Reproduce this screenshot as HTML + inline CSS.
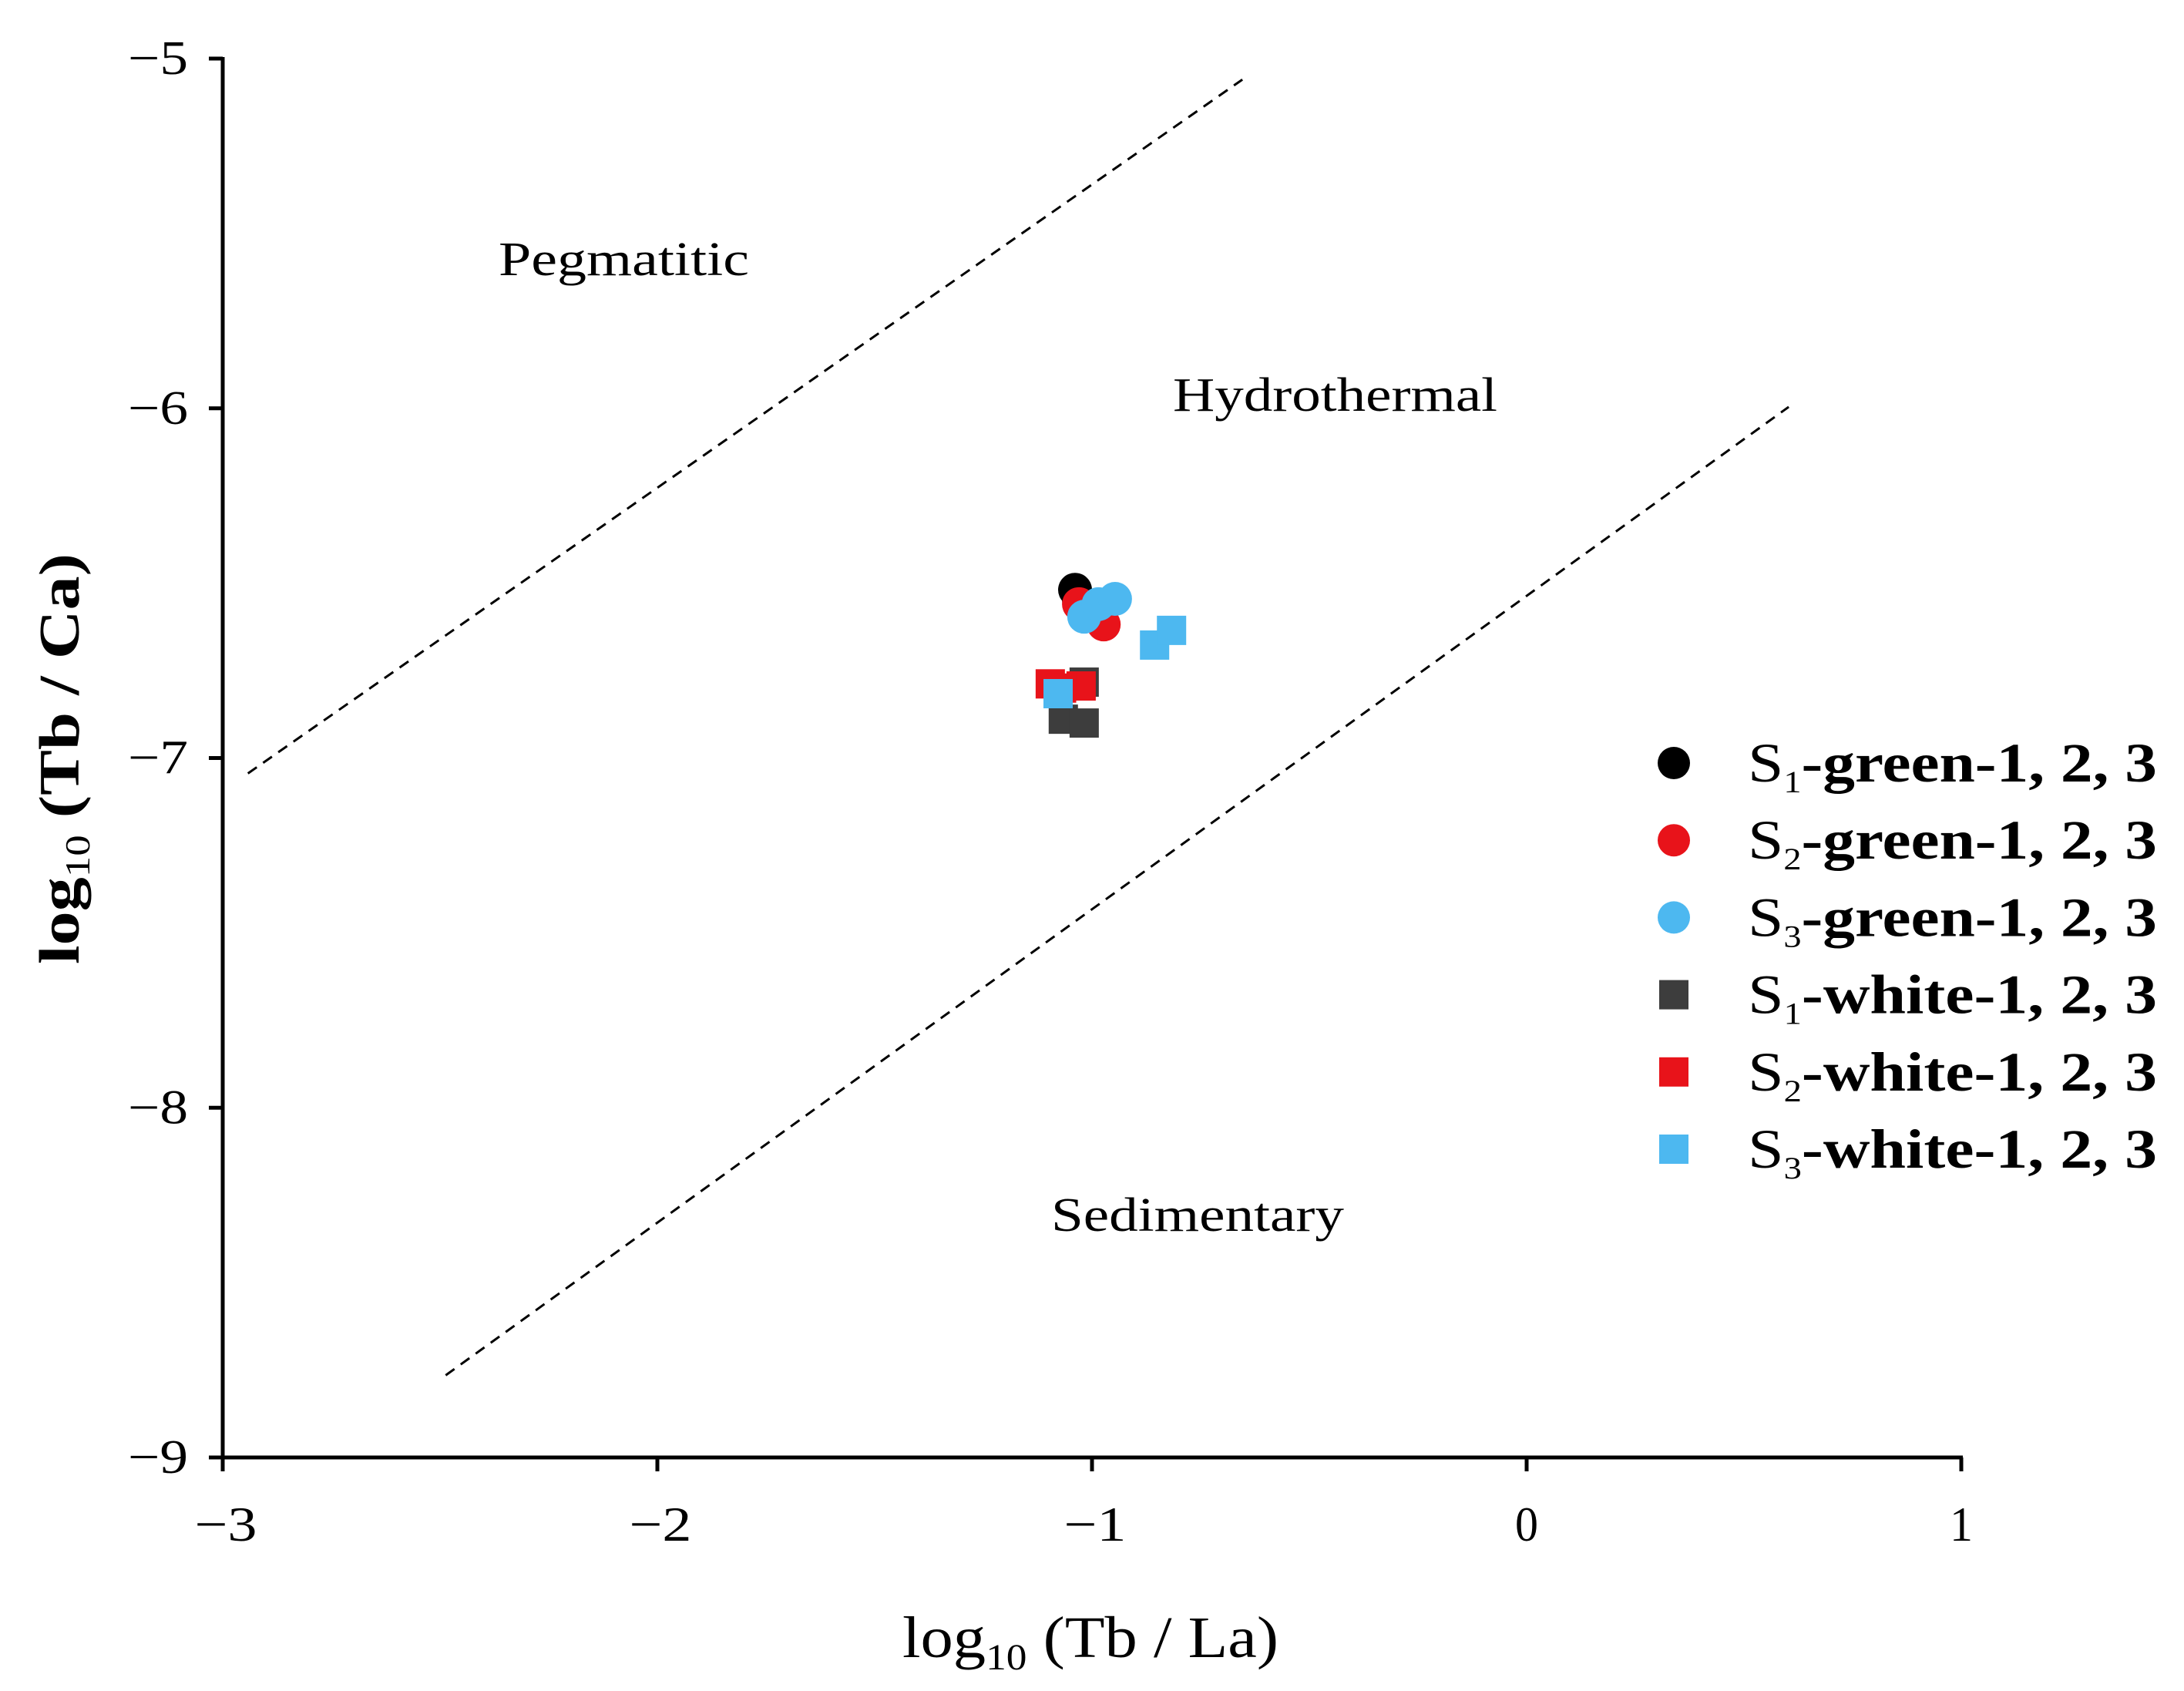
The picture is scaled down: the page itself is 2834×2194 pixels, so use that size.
<!DOCTYPE html>
<html><head><meta charset="utf-8"><style>
html,body{margin:0;padding:0;background:#fff}
svg{display:block}
text{font-family:"Liberation Serif",serif}
</style></head><body>
<svg id="chart" width="2834" height="2194" viewBox="0 0 2834 2194" xmlns="http://www.w3.org/2000/svg">
</svg>
<script>
const xTicks=[-3,-2,-1,0,1];
const yTicks=[-5,-6,-7,-8,-9];
const boundaryUpper=[[-2.942,-7.044],[-0.654,-5.06]];
const boundaryLower=[[-2.487,-8.765],[0.603,-5.996]];
const s1GreenX=[-1.039,-1.03,-1.02];const s1GreenY=[-6.519,-6.55,-6.57];
const s2GreenX=[-1.03,-1.01,-0.973];const s2GreenY=[-6.56,-6.58,-6.618];
const s3GreenX=[-1.018,-0.985,-0.947];const s3GreenY=[-6.596,-6.56,-6.545];
const s1WhiteX=[-1.018,-1.066,-1.018];const s1WhiteY=[-6.783,-6.889,-6.9];
const s2WhiteX=[-1.096,-1.025,-1.07];const s2WhiteY=[-6.788,-6.794,-6.8];
const s3WhiteX=[-0.856,-0.817,-1.078];const s3WhiteY=[-6.677,-6.635,-6.816];

const NS="http://www.w3.org/2000/svg";
const svg=document.getElementById('chart');
const X0=289,X1=2545,Y0=76,Y1=1891;
const sx=v=>X0+(v-(-3))/(1-(-3))*(X1-X0);
const sy=v=>Y0+((-5)-v)/((-5)-(-9))*(Y1-Y0);
function mk(tag,attrs,parent){const e=document.createElementNS(NS,tag);for(const k in attrs)e.setAttribute(k,attrs[k]);(parent||svg).appendChild(e);return e;}
const minus=v=>v<0?'\u2212'+Math.abs(v):String(v);

let ax=mk('line',{x1:X0,y1:Y0-2,x2:X0,y2:Y1+2,stroke:'#000','stroke-width':5});

ax=mk('line',{x1:X0-2,y1:Y1,x2:X1+2,y2:Y1,stroke:'#000','stroke-width':5});


yTicks.forEach(v=>{
 const t=mk('line',{x1:X0-18,y1:sy(v),x2:X0,y2:sy(v),stroke:'#000','stroke-width':5});
 
 const l=mk('text',{x:166,y:sy(v)+20,'font-size':62,textLength:78,lengthAdjust:'spacingAndGlyphs'});
 
 l.textContent=minus(v);
});
xTicks.forEach(v=>{
 const t=mk('line',{x1:sx(v),y1:Y1,x2:sx(v),y2:Y1+18,stroke:'#000','stroke-width':5});
 
 const w=v<0?81:30;
 const l=mk('text',{x:sx(v)+(v<0?4:0)-w/2,y:Y1+108,'font-size':64,textLength:w,lengthAdjust:'spacingAndGlyphs'});
 
 l.textContent=minus(v);
});

[[boundaryUpper,'boundary-pegmatitic-hydrothermal'],[boundaryLower,'boundary-hydrothermal-sedimentary']].forEach(([b,n])=>{
 const l=mk('line',{x1:sx(b[0][0]),y1:sy(b[0][1]),x2:sx(b[1][0]),y2:sy(b[1][1]),stroke:'#000','stroke-width':3,'stroke-dasharray':'14 10'});
 
});

[['Pegmatitic',647,357,325,'region-label-pegmatitic'],['Hydrothermal',1522,533,421,'region-label-hydrothermal'],['Sedimentary',1364,1597,380,'region-label-sedimentary']].forEach(([t,x,y,w,n])=>{
 const e=mk('text',{x:x,y:y,'font-size':62,textLength:w,lengthAdjust:'spacingAndGlyphs'});
 
 e.textContent=t;
});

const series=[
 [s1GreenX,s1GreenY,'#000','c','s1-green'],
 [s2GreenX,s2GreenY,'#e8131a','c','s2-green'],
 [s1WhiteX,s1WhiteY,'#3d3d3d','s','s1-white'],
 [s2WhiteX,s2WhiteY,'#e8131a','s','s2-white'],
 [s3GreenX,s3GreenY,'#4db8f0','c','s3-green'],
 [s3WhiteX,s3WhiteY,'#4db8f0','s','s3-white'],
];
series.forEach(([xs,ys,c,shape,n])=>{
 xs.forEach((xv,i)=>{
  let e;
  if(shape==='c') e=mk('circle',{cx:sx(xv),cy:sy(ys[i]),r:22,fill:c});
  else e=mk('rect',{x:sx(xv)-19,y:sy(ys[i])-19,width:38,height:38,fill:c});
  
  
 });
});

const legend=[['1','green','#000','c'],['2','green','#e8131a','c'],['3','green','#4db8f0','c'],['1','white','#3d3d3d','s'],['2','white','#e8131a','s'],['3','white','#4db8f0','s']];
legend.forEach((L,i)=>{
 const y=990+i*100.2;
 let m;
 if(L[3]==='c') m=mk('circle',{cx:2172,cy:y,r:21,fill:L[2]});
 else m=mk('rect',{x:2153,y:y-19,width:38,height:38,fill:L[2]});
 
 const t=mk('text',{x:2268,y:y+24,'font-size':72,'font-weight':'bold',textLength:531,lengthAdjust:'spacingAndGlyphs'});
 
 const s=mk('tspan',{'font-weight':'normal'},t);s.textContent='S';
 const sub=mk('tspan',{'font-size':40,'font-weight':'normal',dy:14},t);sub.textContent=L[0];
 const r=mk('tspan',{dy:-14},t);r.textContent='-'+L[1]+'-1, 2, 3';
});

let xt=mk('text',{x:1171,y:2150,'font-size':76,textLength:488,lengthAdjust:'spacingAndGlyphs'});

let a=mk('tspan',{},xt);a.textContent='log';
a=mk('tspan',{'font-size':48,dy:16},xt);a.textContent='10';
a=mk('tspan',{dy:-16},xt);a.textContent=' (Tb / La)';

let yt=mk('text',{x:-266,y:0,'font-size':74,'font-weight':'bold',textLength:533,lengthAdjust:'spacingAndGlyphs',transform:'translate(102,985) rotate(-90)'});

a=mk('tspan',{},yt);a.textContent='log';
a=mk('tspan',{'font-size':46,'font-weight':'normal',dy:14},yt);a.textContent='10';
a=mk('tspan',{dy:-14},yt);a.textContent=' (Tb / Ca)';
</script>
</body></html>
